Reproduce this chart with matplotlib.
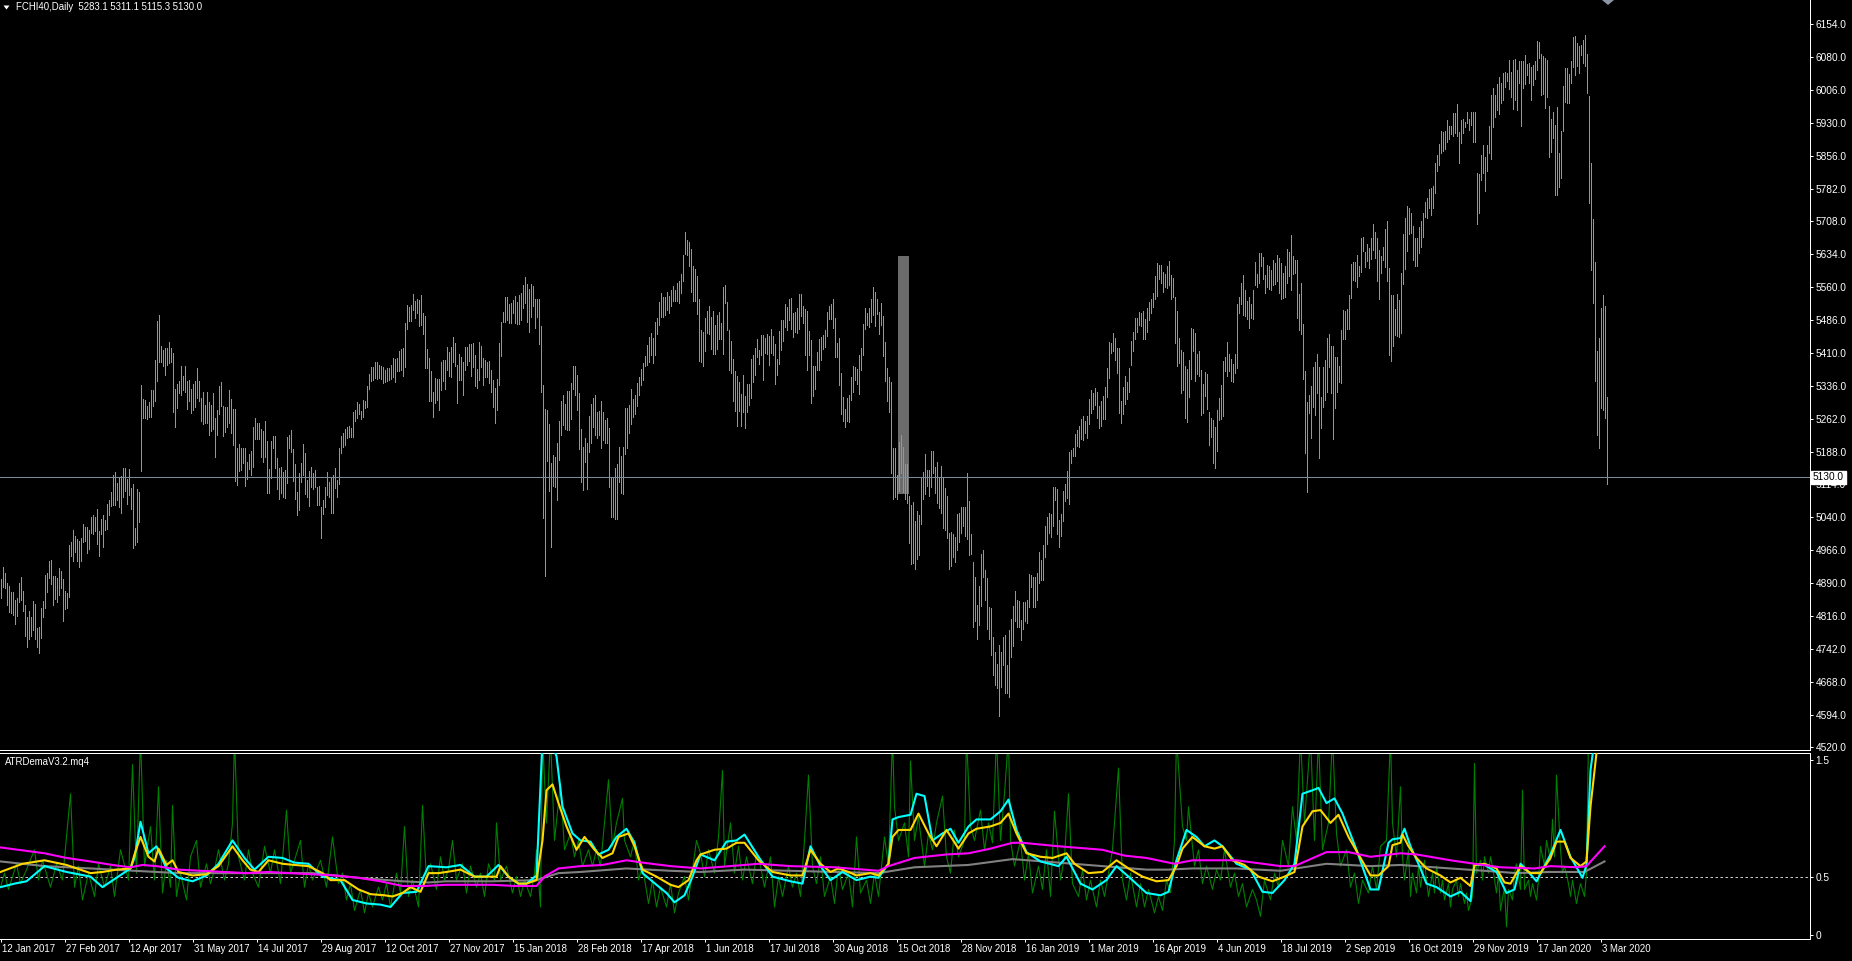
import matplotlib
matplotlib.use("Agg")
import matplotlib.pyplot as plt
from matplotlib.patches import Polygon, Rectangle
from matplotlib.transforms import ScaledTranslation, blended_transform_factory

plt.rcParams['font.family'] = ['Liberation Sans', 'DejaVu Sans']

# daily bars FCHI40, one per trading day (high / low)
highs = [4900,4927,4913,4891,4884,4870,4870,4853,4857,4891,4904,4873,4842,4814,4828,4814,4851,4844,4789,4791,
         4835,4851,4909,4913,4941,4943,4906,4906,4902,4925,4918,4900,4873,4868,4977,4983,5011,4997,4991,4986,4993,
         5024,5017,5017,5011,5040,5045,5040,5058,5009,5036,5045,5033,5069,5078,5096,5135,5141,5117,5128,5132,
         5151,5151,5126,5148,5106,5115,5015,5104,5096,5339,5307,5304,5290,5300,5327,5327,5395,5483,5497,5426,
         5417,5422,5422,5435,5422,5410,5330,5341,5348,5381,5358,5381,5348,5350,5330,5341,5348,5377,5348,5309,
         5322,5293,5322,5300,5293,5320,5264,5282,5336,5345,5290,5288,5288,5327,5307,5284,5284,5196,5205,5196,
         5196,5196,5164,5182,5189,5243,5264,5252,5252,5239,5235,5257,5212,5148,5212,5223,5223,5173,5151,5153,
         5141,5146,5221,5226,5237,5194,5160,5096,5139,5162,5205,5184,5124,5144,5153,5139,5146,5108,5110,5062,
         5078,5108,5141,5119,5128,5135,5151,5124,5196,5223,5230,5239,5243,5245,5241,5277,5282,5300,5295,5280,
         5304,5302,5336,5363,5379,5379,5390,5390,5384,5381,5379,5372,5377,5377,5384,5399,5397,5399,5415,
         5420,5422,5478,5519,5514,5519,5544,5528,5533,5530,5542,5501,5494,5420,5399,5370,5322,5354,5352,5352,
         5390,5395,5395,5424,5412,5424,5447,5433,5384,5408,5401,5390,5424,5424,5431,5431,5433,5406,5375,5435,
         5426,5399,5395,5390,5393,5372,5350,5332,5352,5433,5480,5503,5537,5537,5521,5523,5530,5539,5525,5542,
         5546,5564,5582,5566,5555,5566,5562,5533,5533,5533,5471,5339,5284,5282,5250,5162,5180,5175,5207,5257,
         5302,5316,5295,5325,5325,5343,5381,5381,5361,5320,5239,5198,5219,5207,5268,5295,5309,5316,5277,5280,
         5302,5277,5259,5264,5241,5130,5128,5151,5160,5198,5177,5198,5286,5286,5293,5330,5307,5316,5343,5356,
         5375,5388,5403,5429,5447,5456,5445,5480,5490,5525,5546,5537,5537,5548,5539,5553,5562,5553,5568,5573,
         5589,5632,5683,5666,5661,5646,5607,5601,5584,5533,5463,5458,5490,5506,5516,5492,5506,5474,5497,5503,
         5478,5559,5564,5525,5463,5438,5397,5370,5358,5345,5318,5361,5314,5341,5341,5397,5406,5422,5443,5417,
         5452,5452,5445,5454,5449,5465,5449,5431,5397,5460,5485,5485,5521,5514,5533,5535,5501,5503,5512,5544,
         5544,5516,5510,5506,5460,5440,5381,5381,5412,5443,5447,5452,5463,5503,5516,5521,5533,5490,5433,5445,
         5365,5311,5284,5309,5316,5356,5381,5379,5375,5406,5422,5476,5512,5501,5512,5533,5559,5548,5533,5503,
         5523,5494,5435,5377,5356,5345,5196,5196,5135,5209,5226,5198,5160,5160,5088,5067,5074,5031,5054,5045,
         5128,5141,5182,5146,5146,5189,5189,5153,5164,5130,5155,5130,5106,5088,5004,5006,5002,4995,5047,5049,
         5062,5062,5062,5139,5076,5002,4938,4904,4842,4884,4957,4966,4920,4902,4837,4835,4769,4735,4708,4751,
         4735,4769,4774,4706,4785,4810,4839,4873,4853,4851,4807,4848,4848,4853,4911,4909,4904,4904,4913,4961,
         4943,4977,5020,5040,5049,5047,5108,5108,5104,5033,5047,5099,5115,5144,5187,5191,5196,5228,5237,5245,
         5262,5268,5257,5268,5307,5327,5320,5332,5322,5290,5302,5314,5334,5377,5435,5433,5456,5445,5422,5422,
         5302,5334,5358,5345,5377,5438,5458,5490,5490,5503,5501,5506,5487,5512,5525,5533,5546,5584,5614,5609,
         5609,5594,5589,5607,5618,5587,5580,5537,5506,5445,5417,5412,5381,5375,5395,5467,5465,5456,5408,5415,
         5372,5341,5368,5363,5277,5264,5259,5243,5282,5309,5339,5393,5401,5435,5408,5397,5386,5408,5521,5537,
         5569,5587,5553,5528,5537,5521,5553,5616,5589,5636,5636,5627,5587,5609,5607,5598,5621,5614,5632,5625,
         5614,5591,5607,5646,5639,5677,5630,5621,5621,5544,5569,5476,5370,5300,5316,5336,5379,5390,5408,5379,
         5311,5379,5395,5445,5454,5426,5426,5401,5401,5381,5463,5508,5506,5510,5542,5612,5616,5616,5632,5607,
         5670,5673,5639,5657,5648,5670,5702,5684,5670,5643,5630,5650,5691,5709,5603,5542,5542,5510,5544,5530,
         5591,5679,5716,5743,5738,5727,5697,5670,5670,5695,5709,5727,5752,5761,5781,5783,5788,5840,5858,5883,
         5912,5910,5912,5937,5923,5923,5953,5953,5973,5910,5937,5939,5932,5955,5939,5955,5955,5955,5817,5815,
         5858,5880,5853,5880,5923,5993,6009,5993,6018,6034,6020,6043,6045,6043,6072,6045,6072,6075,6050,6070,
         6070,6070,6084,6063,6066,6057,6061,6070,6115,6113,6086,6082,6077,6072,5969,5939,5955,5926,5966,5862,
         5912,6014,6054,6054,6041,6070,6124,6127,6111,6104,6106,6118,6129,6086,5991,5840,5713,5616,5415,5445,
         5512,5542,5517,5311]
lows = [4857,4882,4880,4842,4825,4823,4819,4798,4816,4848,4853,4828,4771,4746,4765,4771,4785,4765,4746,4733,
        4767,4814,4835,4870,4902,4889,4842,4855,4848,4864,4880,4805,4833,4835,4859,4952,4941,4961,4941,4927,4941,
        4983,4986,4959,4968,5004,5002,5009,4979,4952,5002,4972,5011,5013,5045,5064,5067,5067,5078,5062,5049,
        5085,5099,5069,5090,5058,4970,4977,4983,5028,5144,5264,5264,5262,5266,5266,5290,5302,5348,5390,5390,
        5381,5361,5384,5388,5390,5277,5243,5286,5320,5316,5327,5322,5284,5302,5275,5282,5288,5309,5302,5257,
        5250,5252,5252,5226,5235,5239,5175,5226,5273,5290,5223,5232,5243,5252,5230,5203,5122,5113,5144,5146,
        5162,5110,5126,5148,5135,5153,5217,5217,5217,5175,5164,5175,5094,5094,5128,5196,5151,5104,5081,5094,
        5085,5083,5117,5196,5186,5122,5081,5045,5056,5119,5135,5092,5085,5064,5108,5104,5108,5067,5067,4993,
        5047,5062,5090,5085,5049,5049,5106,5085,5115,5184,5198,5203,5219,5221,5221,5221,5257,5264,5273,5262,
        5266,5286,5288,5330,5348,5350,5354,5352,5354,5352,5343,5345,5348,5350,5352,5356,5345,5370,5370,
        5372,5358,5379,5465,5483,5483,5508,5490,5501,5471,5474,5454,5377,5377,5302,5302,5266,5297,5304,5282,
        5327,5348,5330,5372,5358,5356,5390,5381,5297,5350,5350,5316,5372,5384,5393,5358,5379,5336,5332,5350,
        5379,5339,5356,5356,5343,5322,5288,5252,5282,5339,5403,5480,5480,5485,5478,5478,5501,5478,5476,5476,
        5485,5512,5523,5480,5458,5492,5516,5467,5492,5431,5322,5038,4906,5167,5099,4972,5110,5108,5078,5169,
        5226,5248,5239,5237,5237,5262,5330,5316,5282,5194,5119,5101,5164,5104,5186,5207,5243,5226,5219,5226,
        5196,5214,5207,5207,5108,5040,5040,5036,5036,5119,5094,5092,5182,5196,5230,5250,5266,5273,5290,5316,
        5339,5350,5381,5384,5390,5406,5388,5406,5454,5474,5492,5492,5497,5508,5501,5516,5528,5528,5528,5523,
        5546,5573,5634,5632,5607,5548,5528,5528,5499,5393,5390,5381,5415,5456,5454,5420,5408,5408,5420,5443,
        5443,5408,5523,5463,5372,5365,5302,5280,5245,5280,5245,5277,5241,5277,5293,5309,5345,5361,5401,5386,
        5406,5350,5410,5408,5384,5410,5406,5341,5361,5386,5417,5438,5469,5463,5485,5465,5447,5458,5456,5465,
        5494,5478,5406,5372,5406,5297,5314,5330,5372,5372,5395,5420,5424,5449,5487,5487,5467,5401,5401,5339,
        5273,5257,5243,5257,5255,5304,5322,5350,5341,5318,5372,5406,5465,5474,5469,5480,5497,5471,5499,5454,
        5474,5403,5348,5302,5277,5139,5081,5085,5081,5099,5139,5096,5081,5071,4981,4934,4936,4922,4945,4954,
        5024,5081,5092,5110,5088,5108,5139,5094,5071,5060,5049,5015,5011,4993,4922,4929,4950,4938,4966,4983,
        5004,5020,4997,4991,4954,4957,4791,4805,4765,4796,4839,4904,4853,4787,4765,4728,4683,4661,4654,4591,
        4656,4706,4643,4643,4634,4724,4749,4805,4791,4791,4762,4787,4805,4800,4837,4882,4837,4837,4853,4891,
        4898,4898,4950,4979,5004,4995,5020,5078,5002,4972,4997,5031,5076,5083,5069,5162,5178,5178,5201,5198,
        5216,5214,5230,5219,5250,5275,5284,5293,5264,5241,5245,5262,5262,5311,5354,5410,5415,5395,5365,5275,
        5252,5273,5295,5307,5322,5384,5415,5443,5458,5474,5471,5443,5443,5458,5485,5501,5514,5533,5539,5578,
        5569,5548,5559,5557,5564,5533,5537,5433,5381,5388,5320,5327,5264,5255,5311,5352,5415,5348,5363,5358,
        5271,5275,5314,5284,5203,5221,5162,5151,5189,5259,5262,5268,5370,5358,5370,5348,5345,5365,5377,5501,
        5521,5497,5494,5487,5467,5490,5487,5564,5559,5569,5607,5578,5546,5559,5555,5553,5564,5566,5573,5546,
        5533,5535,5537,5569,5584,5553,5589,5591,5490,5463,5454,5352,5185,5096,5275,5219,5288,5271,5320,5173,
        5241,5288,5304,5322,5379,5320,5216,5286,5322,5345,5343,5443,5443,5465,5465,5535,5575,5573,5559,5584,
        5594,5641,5605,5618,5603,5623,5643,5625,5573,5533,5591,5621,5605,5573,5406,5393,5426,5452,5449,5447,
        5456,5566,5600,5641,5679,5682,5621,5607,5607,5636,5650,5673,5718,5716,5738,5722,5738,5772,5822,5835,
        5862,5867,5871,5887,5894,5905,5901,5908,5901,5840,5885,5908,5921,5930,5914,5926,5887,5887,5702,5727,
        5801,5817,5777,5822,5862,5849,5921,5944,5960,5950,5975,5982,6011,6025,6007,5989,5962,5982,5960,6020,
        5923,6009,6018,6039,6020,5982,6016,6030,6050,6077,5993,5996,5964,5989,5853,5865,5896,5768,5768,5786,
        5806,5912,5978,5975,5975,6020,6057,6039,6059,6043,6084,6066,6059,5998,5750,5598,5523,5348,5226,5196,
        5286,5282,5264,5115]

price_ticks = [6154, 6080, 6006, 5930, 5856, 5782, 5708, 5634, 5560, 5486, 5410, 5336,
               5262, 5188, 5114, 5040, 4966, 4890, 4816, 4742, 4668, 4594, 4520]
date_labels = ['12 Jan 2017', '27 Feb 2017', '12 Apr 2017', '31 May 2017', '14 Jul 2017',
               '29 Aug 2017', '12 Oct 2017', '27 Nov 2017', '15 Jan 2018', '28 Feb 2018',
               '17 Apr 2018', '1 Jun 2018', '17 Jul 2018', '30 Aug 2018', '15 Oct 2018',
               '28 Nov 2018', '16 Jan 2019', '1 Mar 2019', '16 Apr 2019', '4 Jun 2019',
               '18 Jul 2019', '2 Sep 2019', '16 Oct 2019', '29 Nov 2019', '17 Jan 2020', '3 Mar 2020']
last_close = 5130.0
marked_bars = (449, 454)        # grey highlight column
marked_range = (5092, 5630)

# indicator: raw ATR (green) sampled by bar number
green_idx = [0,2,4,8,10,13,17,19,21,25,28,31,35,37,39,41,44,47,49,52,55,57,60,64,66,68,70,72,75,77,
             79,81,83,85,86,88,90,93,95,98,100,103,105,107,109,112,114,116,117,119,122,124,126,129,132,135,137,140,143,145,
             147,150,152,154,156,160,163,166,169,171,173,175,177,180,182,184,186,189,191,193,195,198,200,202,204,206,209,211,213,215,
             218,220,222,224,226,228,231,233,235,238,240,242,244,247,248,250,253,256,258,260,262,265,267,268,270,271,273,275,277,280,
             282,285,287,289,291,294,296,298,300,304,306,308,311,312,315,317,319,321,324,326,328,330,333,335,337,339,342,344,346,348,
             350,352,354,357,359,361,362,365,367,369,371,373,376,378,380,382,385,387,389,391,394,396,398,400,402,404,406,408,410,412,
             415,417,419,421,424,426,428,430,433,435,437,439,442,444,446,447,449,452,454,455,457,459,462,464,466,468,471,473,475,477,
             479,482,483,485,487,490,492,494,496,498,500,502,504,505,507,510,512,514,516,519,521,523,525,527,530,532,534,536,539,541,
             543,545,548,550,552,554,556,559,561,563,565,568,570,572,574,577,579,581,583,585,587,588,591,593,594,597,599,601,603,606,
             608,610,612,615,617,619,621,623,626,628,630,632,635,637,639,641,644,646,648,650,652,655,657,659,661,664,666,668,670,673,
             675,677,679,681,684,686,688,690,693,695,696,698,
             700,701,702,704,705,706,708,709,710,712,713,714,716,717,718,720,721,722,724,725,
             726,728,729,730,732,733,734,736,737,738,740,741,742,744,745,746,748,749,750,752,
             753,754,756,757,758,760,761,762,764,765,766,768,769,770,772,773,775,776,777,778,
             780,781,782,784,785,786,788,789,790,792,793,794,795,797,800,802]
green_val = [0.41,0.53,0.39,0.61,0.44,0.56,0.73,0.47,0.64,0.41,0.61,0.47,1.21,0.41,0.59,0.30,0.53,0.33,0.61,0.41,
             0.59,0.33,0.73,0.47,1.46,0.53,1.70,0.59,0.93,0.47,1.27,0.36,0.64,0.41,1.11,0.33,0.53,0.30,0.67,0.81,
             0.41,0.61,0.44,0.56,0.73,0.47,0.61,0.96,1.70,0.67,0.47,0.73,0.53,0.41,0.76,0.53,0.73,0.44,1.07,0.53,
             0.64,0.81,0.41,0.61,0.47,0.64,0.41,0.84,0.44,0.53,0.30,0.44,0.21,0.39,0.19,0.36,0.24,0.41,0.30,0.44,
             0.24,0.53,0.36,0.93,0.33,0.47,0.24,1.11,0.47,0.61,0.39,0.67,0.47,0.56,0.81,0.47,0.61,0.36,0.59,0.41,
             0.53,0.33,0.61,0.47,0.96,0.47,0.59,0.36,0.50,0.33,0.47,0.33,0.53,0.73,0.24,1.70,0.96,1.70,0.81,1.30,
             0.73,0.87,0.67,0.81,0.59,0.73,0.59,0.73,0.59,1.33,0.76,0.96,1.17,0.81,0.67,0.81,0.47,0.59,0.27,0.47,
             0.24,0.41,0.24,0.44,0.19,0.36,0.50,0.30,0.56,0.81,
             0.70,0.50,0.73,0.53,0.84,1.41,0.59,0.96,0.53,0.76,0.47,0.67,0.44,0.70,0.59,0.41,0.67,0.24,0.50,0.33,
             0.59,0.41,0.53,0.33,0.81,1.37,0.59,0.44,0.67,0.33,0.50,0.27,0.59,0.39,0.53,0.24,0.84,0.36,0.47,0.27,
             0.53,0.33,0.84,0.59,1.70,1.10,0.81,0.96,0.67,1.49,0.81,1.01,0.59,0.87,0.73,0.96,1.19,0.67,0.53,0.90,
             0.67,0.81,1.70,0.93,0.81,1.07,0.73,0.96,0.79,1.70,0.81,1.21,1.70,0.81,0.59,0.81,0.47,0.70,0.36,0.59,
             0.39,0.73,0.33,1.06,0.47,0.67,1.21,0.44,0.33,0.56,0.30,0.47,0.24,0.47,0.33,0.53,0.73,1.43,0.47,0.30,
             0.53,0.24,0.44,0.24,0.39,0.19,0.33,0.21,0.47,0.36,0.81,1.70,0.93,0.81,1.10,0.59,0.73,0.44,0.59,0.39,
             0.56,0.47,0.73,0.41,0.53,0.33,0.44,0.24,0.39,0.30,0.16,0.47,0.30,0.53,0.41,0.81,0.59,1.10,0.81,1.70,
             0.96,1.70,0.81,1.70,0.73,0.96,1.70,0.87,0.59,0.73,0.41,0.53,0.27,0.47,0.36,0.59,0.39,0.76,0.81,1.70,
             0.96,0.67,
             1.27,0.67,0.47,0.73,0.33,0.53,0.36,0.59,0.41,0.64,0.47,0.33,0.53,0.36,0.59,0.36,0.47,0.30,0.44,0.24,
             0.39,0.47,0.33,0.44,0.27,0.36,0.21,0.33,1.47,0.53,0.64,0.47,0.67,0.53,0.67,0.59,0.36,0.53,0.21,0.41,
             0.07,0.39,0.30,0.53,0.61,0.39,1.24,0.39,0.47,0.33,0.44,0.30,0.47,0.76,0.59,0.81,0.64,0.99,0.67,1.37,
             0.73,0.53,0.59,0.44,0.33,0.47,0.27,0.36,0.44,0.33,0.53,1.70,1.70,1.80,1.90,2.00]

yellow_idx = [0,11,22,33,45,51,58,65,67,70,74,77,79,83,86,89,96,103,109,116,121,125,129,134,141,147,154,161,165,172,
              179,185,192,196,201,205,210,214,219,223,230,237,243,248,250,254,259,263,268,271,273,276,279,283,288,292,297,301,306,309,
              314,317,321,328,335,339,344,348,350,357,363,368,372,379,386,395,401,405,410,415,419,424,428,435,439,444,446,449,455,459,
              464,468,473,479,484,488,495,500,504,508,513,520,526,533,537,544,551,558,564,571,578,584,588,591,596,602,607,611,616,622,
              629,636,642,647,651,656,660,665,669,674,680,685,689,694,696,700,701,704,708,713,720,725,730,735,737,742,748,752,755,760,
              765,770,775,778,782,785,790,793,795,798,801]
yellow_val = [0.54,0.61,0.64,0.60,0.53,0.54,0.56,0.57,0.69,0.84,0.67,0.63,0.74,0.60,0.64,0.54,0.51,0.52,0.59,0.76,0.64,0.56,0.54,0.64,0.61,0.60,0.59,0.53,0.47,0.47,
              0.39,0.35,0.34,0.33,0.36,0.41,0.37,0.53,0.53,0.54,0.56,0.50,0.50,0.50,0.59,0.50,0.44,0.44,0.47,0.81,1.24,1.29,1.13,0.93,0.73,0.84,0.73,0.66,0.70,0.84,
              0.87,0.76,0.56,0.50,0.43,0.41,0.47,0.64,0.69,0.73,0.74,0.79,0.79,0.64,0.54,0.51,0.51,0.73,0.61,0.54,0.57,0.54,0.51,0.53,0.51,0.61,0.84,0.90,0.90,1.04,
              0.87,0.76,0.90,0.74,0.87,0.91,0.93,0.96,1.04,0.87,0.70,0.67,0.66,0.70,0.61,0.53,0.54,0.64,0.57,0.50,0.46,0.47,0.59,0.74,0.84,0.76,0.74,0.76,0.64,0.60,
              0.50,0.46,0.50,0.54,0.93,1.06,1.07,0.96,1.03,0.84,0.66,0.51,0.51,0.59,0.77,0.79,0.86,0.76,0.66,0.57,0.51,0.45,0.49,0.42,0.60,0.61,0.57,0.45,0.44,0.59,
              0.53,0.53,0.66,0.80,0.80,0.66,0.59,0.63,1.10,1.56,1.84]

cyan_idx = [0,7,13,22,33,45,51,58,65,67,70,74,78,83,89,96,103,109,116,122,127,134,141,147,154,161,170,176,183,190,
            195,201,208,214,223,230,237,243,249,254,259,263,268,271,275,278,281,286,290,295,299,304,308,313,317,321,328,333,337,342,
            346,350,357,363,368,372,379,386,395,401,405,410,415,421,428,435,439,444,446,449,455,458,462,466,471,475,479,484,488,495,
            500,504,508,513,520,529,533,540,546,553,558,564,573,580,584,588,593,598,602,607,611,618,625,631,636,642,647,651,656,659,
            663,667,671,678,685,689,694,696,700,702,705,710,713,718,725,730,735,737,742,748,753,757,760,763,768,775,780,785,791,793,
            795,797,802]
cyan_val = [0.41,0.44,0.46,0.59,0.54,0.50,0.41,0.49,0.57,0.66,0.97,0.70,0.76,0.57,0.49,0.46,0.51,0.61,0.81,0.66,0.56,0.67,0.66,0.62,0.61,0.50,0.47,0.30,0.27,0.26,
            0.24,0.36,0.37,0.59,0.58,0.60,0.50,0.50,0.60,0.50,0.44,0.44,0.51,1.67,1.67,1.53,1.10,0.87,0.81,0.80,0.69,0.73,0.84,0.91,0.79,0.53,0.43,0.36,0.28,0.34,
            0.50,0.69,0.64,0.80,0.81,0.86,0.67,0.50,0.46,0.44,0.76,0.59,0.47,0.54,0.47,0.50,0.49,0.61,0.99,1.01,1.03,1.21,1.19,0.81,0.87,0.91,0.79,0.93,0.99,0.99,
            1.06,1.16,0.90,0.71,0.63,0.59,0.67,0.44,0.39,0.47,0.59,0.50,0.36,0.34,0.37,0.64,0.90,0.84,0.76,0.81,0.76,0.61,0.56,0.37,0.36,0.47,0.61,1.21,1.24,1.26,
            1.13,1.17,1.04,0.73,0.39,0.39,0.79,0.82,0.83,0.91,0.76,0.57,0.44,0.41,0.33,0.37,0.29,0.60,0.60,0.54,0.36,0.39,0.61,0.56,0.46,0.69,0.90,0.67,0.49,0.60,
            1.41,1.67,2.20]

magenta_idx = [0,22,33,45,56,65,71,78,89,100,112,123,134,145,156,167,179,190,201,212,223,234,246,257,268,272,279,290,301,313,
               321,335,350,372,379,395,417,439,444,457,473,484,495,506,511,529,551,562,573,587,596,618,640,647,663,674,685,700,708,725,
               737,750,767,775,788,793,802]
magenta_val = [0.75,0.70,0.66,0.63,0.60,0.58,0.60,0.59,0.56,0.55,0.54,0.53,0.54,0.53,0.52,0.51,0.49,0.46,0.42,0.42,0.43,0.43,0.43,0.42,0.42,0.50,0.57,0.59,0.60,0.64,
               0.62,0.59,0.57,0.60,0.61,0.59,0.58,0.55,0.59,0.66,0.69,0.70,0.74,0.79,0.79,0.76,0.73,0.68,0.66,0.61,0.64,0.64,0.59,0.59,0.71,0.71,0.67,0.70,0.69,0.64,
               0.61,0.58,0.57,0.59,0.58,0.59,0.76]

gray_idx = [0,22,45,67,89,112,134,156,179,201,214,223,246,268,279,290,313,335,350,372,395,417,439,457,484,506,529,551,573,584,
            596,618,640,663,685,700,725,742,758,775,792,802]
gray_val = [0.63,0.59,0.57,0.55,0.53,0.53,0.53,0.53,0.49,0.46,0.45,0.46,0.46,0.47,0.53,0.54,0.57,0.55,0.54,0.56,0.55,0.54,0.53,0.58,0.60,0.65,0.62,0.59,0.56,0.56,
            0.57,0.57,0.55,0.61,0.59,0.60,0.57,0.55,0.53,0.54,0.54,0.63]

W, H = 1852, 961
fig = plt.figure(figsize=(W / 100, H / 100), dpi=100, facecolor='black')


def box(x0, y0, x1, y1):
    # pixel box -> figure fraction rect
    return [x0 / W, 1 - y1 / H, (x1 - x0) / W, (y1 - y0) / H]


ax = fig.add_axes(box(0, 0, 1810, 750.0))
sub = fig.add_axes(box(0, 753.0, 1810, 939))
for a in (ax, sub):
    a.set_facecolor('black')
    a.set_xlim(-0.25, 904.75)
    for s in a.spines.values():
        s.set_color('white')
        s.set_linewidth(0.72)
    a.spines['left'].set_visible(False)

# ---- price window ----
ax.spines['top'].set_visible(False)
ax.set_ylim(4513.8, 6208.2)
ax.add_patch(Rectangle((marked_bars[0] - 0.25, marked_range[0]), marked_bars[1] - marked_bars[0] + 0.5,
                       marked_range[1] - marked_range[0], facecolor='#6b6b6b', edgecolor='none', zorder=1))
ax.vlines(range(len(highs)), lows, highs, colors='#00ff00', linewidth=0.5, antialiased=False, zorder=2)
ax.axhline(last_close, color='#7b8a99', lw=0.72, zorder=3)
ax.yaxis.tick_right()
ax.set_yticks(price_ticks)
ax.set_yticklabels([f"{v:.1f}" for v in price_ticks])
ax.tick_params(axis='y', colors='white', direction='out', length=2.5, width=0.72, labelsize=7.3, pad=1.5)
ax.set_xticks([])
ax.text(1.0, last_close, f"{last_close:.1f}", color='black', fontsize=7.3, ha='left', va='center',
        transform=blended_transform_factory(ax.transAxes, ax.transData) + ScaledTranslation(3 / 100, 0, fig.dpi_scale_trans),
        bbox=dict(boxstyle='square,pad=0.15', facecolor='white', edgecolor='white'), zorder=10, clip_on=False)

# ---- indicator window ----
sub.set_ylim(-0.0343, 1.559)
sub.plot(green_idx, green_val, color='#008000', lw=0.8, zorder=2)
sub.axhline(0.5, color='#c8c8c8', lw=0.72, dashes=(2.5, 2.5), zorder=1)
sub.plot(gray_idx, gray_val, color='#808080', lw=1.5, zorder=3)
sub.plot(cyan_idx, cyan_val, color='#00ffff', lw=1.5, zorder=4)
sub.plot(yellow_idx, yellow_val, color='#ffd700', lw=1.5, zorder=5)
sub.plot(magenta_idx, magenta_val, color='#ff00ff', lw=1.5, zorder=6)
sub.yaxis.tick_right()
sub.set_yticks([1.5, 0.5, 0])
sub.set_yticklabels(['1.5', '0.5', '0'])
sub.tick_params(axis='y', colors='white', direction='out', length=2.5, width=0.72, labelsize=7.3, pad=1.5)
sub.set_xticks(range(0, 32 * len(date_labels), 32))
sub.set_xticklabels(date_labels, ha='left')
sub.tick_params(axis='x', colors='white', direction='out', length=2.5, width=0.72, labelsize=6.9, pad=1)
for lab in sub.get_xticklabels():
    lab.set_transform(lab.get_transform() + ScaledTranslation(1.5 / 100, 0, fig.dpi_scale_trans))

# ---- header texts and markers ----
fig.text(15.5 / W, 1 - 7 / H, 'FCHI40,Daily  5283.1 5311.1 5115.3 5130.0', color='white', fontsize=6.9, va='center')
fig.text(4.5 / W, 1 - 762 / H, 'ATRDemaV3.2.mq4', color='white', fontsize=6.9, va='center')
fig.patches.append(Polygon([(3.5 / W, 1 - 5.5 / H), (9.5 / W, 1 - 5.5 / H), (6.5 / W, 1 - 9.5 / H)],
                           closed=True, facecolor='white', edgecolor='none', transform=fig.transFigure, figure=fig))
fig.patches.append(Polygon([(1602 / W, 1.0), (1614 / W, 1.0), (1608 / W, 1 - 5 / H)],
                           closed=True, facecolor='#8a96a3', edgecolor='none', transform=fig.transFigure, figure=fig))

fig.savefig('out.png', dpi=100, facecolor='black')
